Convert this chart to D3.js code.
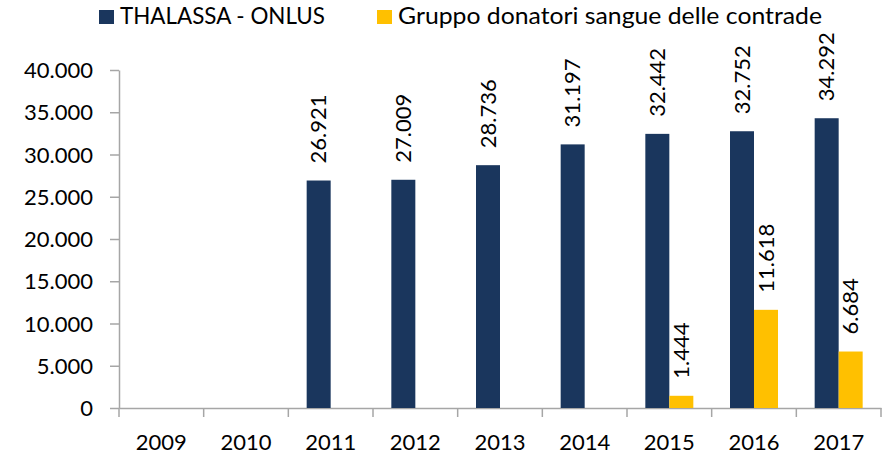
<!DOCTYPE html>
<html><head><meta charset="utf-8">
<script src="https://cdn.jsdelivr.net/npm/d3@7"></script>
<style>body{margin:0;background:#fff;} text{font-family:Lato, "Open Sans", sans-serif;fill:#000;}</style>
</head><body>
<svg id="c" width="886" height="455"></svg>
<script>
const years = ["2009","2010","2011","2012","2013","2014","2015","2016","2017"];
const thalassa = [null,null,26921,27009,28736,31197,32442,32752,34292];
const gruppo = [null,null,null,null,null,null,1444,11618,6684];
const seriesNames = ["THALASSA - ONLUS","Gruppo donatori sangue delle contrade"];
const colors = ["#1a365d","#ffc000"];
const yTicks = [0,5000,10000,15000,20000,25000,30000,35000,40000];

const svg = d3.select("#c");
const x0 = d3.scaleBand().domain(years).range([119, 881]).paddingInner(0).paddingOuter(0);
const y = d3.scaleLinear().domain([0,40000]).range([408,70]);
const fmt = v => d3.format(",")(v).replace(/,/g,".");
const barW = 24;
const x1 = d3.scaleBand().domain([0,1]).range([x0.bandwidth()/2-barW, x0.bandwidth()/2+barW]);

// y axis
const yAxis = d3.axisLeft(y).tickValues(yTicks).tickFormat(fmt).tickSize(9).tickSizeOuter(0);
const gy = svg.append("g").attr("transform","translate(119,0)").call(yAxis);
gy.selectAll("path,line").attr("stroke","#a6a6a6").attr("stroke-width",1.5);
gy.selectAll("text").attr("font-size",22).attr("x",-26).attr("dy","0.35em").style("font-family","Lato");

// x axis
const xAxis = d3.axisBottom(x0).tickSize(0).tickSizeOuter(0);
const gx = svg.append("g").attr("transform","translate(0,408)").call(xAxis);
gx.select("path").attr("stroke","#a6a6a6").attr("stroke-width",1.5);
gx.selectAll("text").attr("font-size",22).attr("y",26).attr("dy","0.71em").style("font-family","Lato");
// category boundary ticks
const bounds = years.map(d=>x0(d)).concat([x0.range()[1]]);
svg.append("g").selectAll("line").data(bounds).join("line")
  .attr("x1",d=>d).attr("x2",d=>d).attr("y1",408).attr("y2",417)
  .attr("stroke","#a6a6a6").attr("stroke-width",1.5);

const series = [thalassa, gruppo];
series.forEach((vals, si) => {
  const data = years.map((yr,i)=>({yr, v: vals[i]})).filter(d=>d.v!=null);
  const g = svg.append("g");
  g.selectAll("rect").data(data).join("rect")
    .attr("x", d=>x0(d.yr)+x1(si))
    .attr("width", barW)
    .attr("y", d=>y(d.v))
    .attr("height", d=>y(0)-y(d.v))
    .attr("fill", colors[si]);
  g.selectAll("text").data(data).join("text")
    .attr("transform", d=>`translate(${x0(d.yr)+x1(si)+barW/2},${y(d.v)-17}) rotate(-90)`)
    .attr("dy","0.35em")
    .attr("font-size",22)
    .attr("text-anchor","start")
    .text(d=>fmt(d.v));
});

// legend
const legX = [99, 377];
const legLen = [205, 424];
seriesNames.forEach((n,i)=>{
  svg.append("rect").attr("x",legX[i]).attr("y",10).attr("width",15).attr("height",14).attr("fill",colors[i]);
  svg.append("text").attr("x",legX[i]+21).attr("y",16).attr("dy","0.35em").attr("font-size",23)
    .attr("textLength",legLen[i]).attr("lengthAdjust","spacingAndGlyphs").text(n);
});
</script>
</body></html>
